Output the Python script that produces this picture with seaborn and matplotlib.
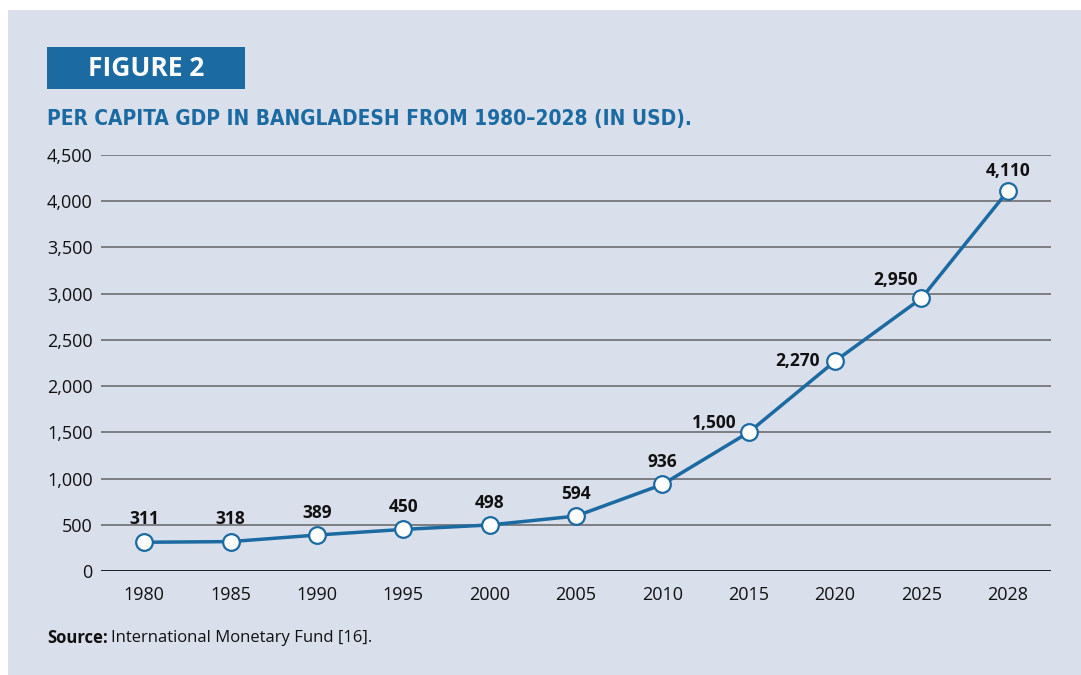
import matplotlib
matplotlib.use("Agg")
import matplotlib.pyplot as plt
import seaborn as sns
import pandas as pd
from matplotlib.patches import Rectangle

years = ["1980", "1985", "1990", "1995", "2000", "2005", "2010", "2015", "2020", "2025", "2028"]
gdp = [311, 318, 389, 450, 498, 594, 936, 1500, 2270, 2950, 4110]
labels = ["311", "318", "389", "450", "498", "594", "936", "1,500", "2,270", "2,950", "4,110"]
yticks = [0, 500, 1000, 1500, 2000, 2500, 3000, 3500, 4000, 4500]

BLUE = "#1b6aa1"
BG = "#d9dfeb"

sns.set_theme(style="white")
plt.rcParams["font.family"] = ["Open Sans", "DejaVu Sans"]

W, H = 1081, 675
fig = plt.figure(figsize=(W / 100, H / 100), dpi=100, facecolor="white")

# background panel
fig.patches.append(Rectangle((8 / W, 0), 1 - 8 / W, 1 - 10 / H, transform=fig.transFigure,
                             facecolor=BG, edgecolor="none", zorder=-10))
# FIGURE 2 box
fig.patches.append(Rectangle((47 / W, 1 - 89 / H), 198 / W, 42 / H, transform=fig.transFigure,
                             facecolor=BLUE, edgecolor="none", zorder=-9))
fig.text(146 / W, 1 - 69 / H, "FIGURE 2", color="white", fontsize=19, fontweight="bold",
         ha="center", va="center")
title = fig.text(47 / W, 1 - 119 / H, "PER CAPITA GDP IN BANGLADESH FROM 1980–2028 (IN USD).",
                 color=BLUE, fontsize=19, fontweight="bold", ha="left", va="center",
                 family=["DejaVu Sans"], fontstretch="condensed")
fig.canvas.draw()
tw = title.get_window_extent().width
if tw > 645:
    title.set_fontsize(19 * 641 / tw)

ax = fig.add_axes([101 / W, 1 - 571 / H, 950 / W, 416 / H])
ax.set_facecolor("none")
ax.set_zorder(2)

df = pd.DataFrame({"year": years, "gdp": gdp})
sns.pointplot(data=df, x="year", y="gdp", color=BLUE, ax=ax, markers="o", errorbar=None)
for ln in ax.lines:
    ln.set_linewidth(2.5)
    ln.set_markersize(12)
    ln.set_markerfacecolor("white")
    ln.set_markeredgecolor(BLUE)
    ln.set_markeredgewidth(1.6)
    ln.set_clip_on(False)
    ln.set_zorder(5)
for c in ax.collections:
    c.set_visible(False)

ax.set_xlim(-0.5, 10.5)
ax.set_ylim(0, 4500)
ax.set_yticks(yticks)
ax.set_yticklabels([f"{v:,}" for v in yticks])
ax.set_xlabel("")
ax.set_ylabel("")
for v in yticks[1:]:
    ax.axhline(v, color="#76767a", lw=1.3, zorder=1)
ax.axhline(0, color="#111111", lw=1.3, zorder=2)
for s in ax.spines.values():
    s.set_visible(False)
ax.tick_params(axis="y", length=0, pad=6, labelsize=13, labelcolor="#111111")
ax.tick_params(axis="x", length=0, pad=11, labelsize=13, labelcolor="#111111")

offsets = [(0, 23, "center"), (0, 23, "center"), (0, 22, "center"), (0, 22, "center"),
           (0, 22, "center"), (0, 22, "center"), (0, 22, "center"),
           (-12, 9, "right"), (-15, 0, "right"), (-4, 18, "right"), (0, 20, "center")]
for i, (v, lab) in enumerate(zip(gdp, labels)):
    dx, dy, ha = offsets[i]
    ax.annotate(lab, (i, v), xytext=(dx, dy), textcoords="offset pixels", ha=ha, va="center",
                fontsize=12.5, fontweight="bold", color="#111111", annotation_clip=False)

src = fig.text(47 / W, 1 - 638 / H, "Source:", fontsize=12, fontweight="bold", color="#111111",
               ha="left", va="center")
fig.canvas.draw()
bb = src.get_window_extent()
fig.text(bb.x1 / W + 3 / W, 1 - 638 / H, "International Monetary Fund [16].", fontsize=12,
         color="#111111", ha="left", va="center")

fig.savefig("out.png", dpi=100, facecolor="white")
